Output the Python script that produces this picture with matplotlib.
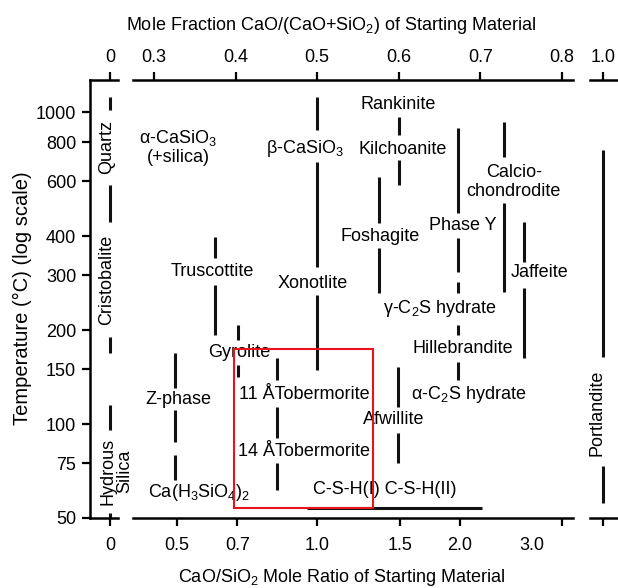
import matplotlib
matplotlib.use("Agg")
import matplotlib.pyplot as plt
from matplotlib.patches import Rectangle

plt.rcParams['font.family'] = ['Liberation Sans', 'DejaVu Sans']
plt.rcParams['font.size'] = 13
plt.rcParams['mathtext.fontset'] = 'custom'
plt.rcParams['mathtext.rm'] = 'Liberation Sans'
plt.rcParams['mathtext.it'] = 'Liberation Sans:italic'
plt.rcParams['mathtext.bf'] = 'Liberation Sans:bold'

# stability ranges: CaO mole fraction, lower / upper temperature (deg C)
seg_frac = [0.0, 0.0, 0.0, 0.0, 0.0,
            0.326, 0.326, 0.326,
            0.375, 0.375,
            0.403, 0.403,
            0.451, 0.451, 0.451,
            0.5, 0.5, 0.5,
            0.576, 0.576,
            0.6, 0.6,
            0.599, 0.599,
            0.673, 0.673, 0.673, 0.673, 0.673,
            0.729, 0.729,
            0.754, 0.754,
            1.0, 1.0]
seg_lo = [1015, 444, 169, 95.4, 50,
          130.3, 87.5, 66.2,
          340, 193,
          186, 141.6,
          138.4, 90.2, 61.4,
          876, 318.7, 149,
          441, 263,
          844, 583,
          113.4, 75,
          474, 307, 263, 193, 138.4,
          718, 265,
          331, 163,
          164, 55.9]
seg_hi = [1117, 583, 190, 115, 52,
          169, 110.9, 79.5,
          397, 279,
          207.6, 154.6,
          162.8, 113.4, 75,
          1117, 691, 259,
          619, 366,
          963, 701,
          152.5, 93.6,
          889, 395, 285, 208, 158,
          929, 511,
          444, 273,
          756, 73.4]

# C-S-H band along the bottom
csh_frac = [0.488, 0.702]
csh_temp = 53.8

# phase names placed in the field
lab_text = ["α-CaSiO$_3$\n(+silica)", "β-CaSiO$_3$", "Rankinite", "Kilchoanite",
            "Calcio-\nchondrodite", "Foshagite", "Phase Y", "Truscottite",
            "Xonotlite", "Jaffeite", "γ-C$_2$S hydrate", "Gyrolite",
            "Hillebrandite", "Z-phase", "11 ÅTobermorite", "α-C$_2$S hydrate",
            "Afwillite", "14 ÅTobermorite", "Ca(H$_3$SiO$_4$)$_2$",
            "C-S-H(I) C-S-H(II)"]
lab_frac = [0.330, 0.485, 0.599, 0.605, 0.741, 0.577, 0.679, 0.371,
            0.495, 0.773, 0.651, 0.404, 0.678, 0.330, 0.484, 0.686,
            0.594, 0.484, 0.355, 0.583]
lab_temp = [772, 767, 1061, 761, 597, 400, 432, 309,
            283, 305, 234, 170, 175, 120, 124.7, 124,
            103.7, 81.9, 60.5, 61.9]

# names written along the vertical lines
vlab_text = ["Quartz", "Cristobalite", "Hydrous\nSilica", "Portlandite"]
vlab_frac = [-0.004, -0.004, 0.008, 0.992]
vlab_temp = [770, 289, 70.7, 109]

# upper axis: mole fraction; lower axis: CaO/SiO2 ratio
frac_ticks = [0, 0.3, 0.4, 0.5, 0.6, 0.7, 0.8, 1.0]
ratio_pos = [0.328, 0.402, 0.5, 0.602, 0.675, 0.8]
ratio_lab = ["0.5", "0.7", "1.0", "1.5", "2.0", ""]
ratio_extra_pos = [0.763]
ratio_extra_lab = ["3.0"]
temp_ticks = [50, 75, 100, 150, 200, 300, 400, 600, 800, 1000]

# highlighted region
box_frac = [0.398, 0.5686]
box_temp = [53.8, 174]

W, H = 618, 588
fig = plt.figure(figsize=(W / 100, H / 100), dpi=100)


def px_axes(x0, x1, y0=80, y1=518, **kw):
    return fig.add_axes([x0 / W, 1 - y1 / H, (x1 - x0) / W, (y1 - y0) / H], **kw)


ax0 = px_axes(90, 118)
ax1 = px_axes(133, 573, sharey=ax0)
ax2 = px_axes(590, 640, sharey=ax0)
ax0.set_xlim(-0.0245, 0.0098)
ax1.set_xlim(0.2743, 0.8135)
ax2.set_xlim(0.984, 1.045)
ax0.set_yscale('log')
ax0.set_ylim(50, 1267)
ax0.set_yticks(temp_ticks)
ax0.set_yticklabels([str(t) for t in temp_ticks])
ax0.yaxis.set_minor_locator(matplotlib.ticker.NullLocator())

lw_spine = 1.8
for ax in (ax0, ax1, ax2):
    for side in ('left', 'right', 'top', 'bottom'):
        ax.spines[side].set_linewidth(lw_spine)
    ax.spines['right'].set_visible(False)
    ax.spines['top'].set_visible(False)
    if ax is not ax0:
        ax.spines['left'].set_visible(False)
        ax.tick_params(axis='y', left=False, labelleft=False)
    ax.tick_params(axis='y', which='major', direction='out', length=6,
                   width=1.6, pad=4, labelsize=13)
    ax.tick_params(axis='x', which='major', direction='out', length=6,
                   width=1.6, pad=8, labelsize=13)
    ax.patch.set_alpha(0)

    lo, hi = ax.get_xlim()
    top = ax.secondary_xaxis('top')
    top.spines['top'].set_linewidth(lw_spine)
    t = [v for v in frac_ticks if lo <= v <= hi]
    top.set_xticks(t)
    top.set_xticklabels(["1.0" if v == 1.0 else f"{v:g}" for v in t])
    top.tick_params(direction='out', length=6, width=1.6, pad=4, labelsize=13)

    for f, a, b in zip(seg_frac, seg_lo, seg_hi):
        ax.plot([f, f], [a, b], color='#111111', lw=2.2, solid_capstyle='butt')

ax0.set_xticks([0])
ax0.set_xticklabels(["0"])
ax1.set_xticks(ratio_pos)
ax1.set_xticklabels(ratio_lab)
ax1.set_xticks(ratio_extra_pos, minor=True)
ax1.set_xticklabels(ratio_extra_lab, minor=True)
ax1.tick_params(axis='x', which='minor', length=0, pad=14, labelsize=13)
ax2.set_xticks([1.0])
ax2.set_xticklabels([""])

ax1.plot(csh_frac, [csh_temp, csh_temp], color='#111111', lw=2.2,
         solid_capstyle='butt', clip_on=False)

for s, f, t in zip(lab_text, lab_frac, lab_temp):
    ax1.text(f, t, s, ha='center', va='center', fontsize=13,
             multialignment='center', linespacing=1.1)

for s, f, t in zip(vlab_text, vlab_frac, vlab_temp):
    ax = ax2 if f > 0.9 else ax0
    ax.text(f, t, s, ha='center', va='center', rotation=90, fontsize=13,
            multialignment='center', linespacing=1.0, clip_on=False)

ax1.add_patch(Rectangle((box_frac[0], box_temp[0]), box_frac[1] - box_frac[0],
                        box_temp[1] - box_temp[0], fill=False,
                        edgecolor='#e8141c', lw=1.5, zorder=5, clip_on=False))

fig.text(331 / W, 1 - 25 / H, "Mole Fraction CaO/(CaO+SiO$_2$) of Starting Material",
         ha='center', va='center', fontsize=13)
fig.text(342 / W, 1 - 578 / H, "CaO/SiO$_2$ Mole Ratio of Starting Material",
         ha='center', va='center', fontsize=13)
fig.text(22 / W, 1 - 298 / H, "Temperature (°C) (log scale)",
         ha='center', va='center', rotation=90, fontsize=14.5)

fig.savefig("out.png", dpi=100)
